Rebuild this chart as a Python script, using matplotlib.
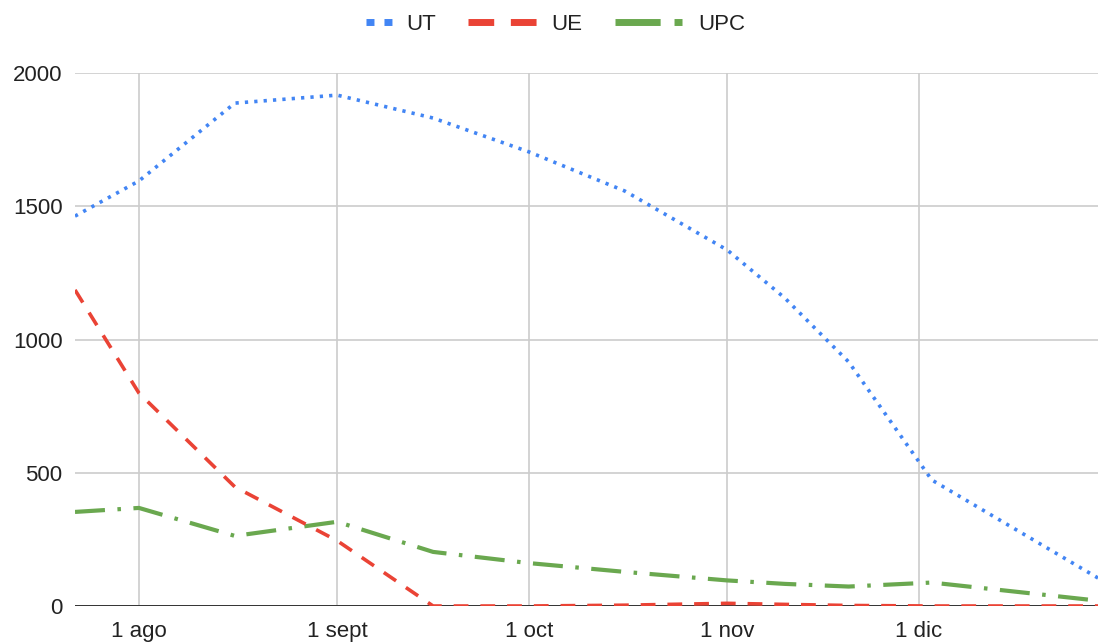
import numpy as np
import pandas as pd
import matplotlib
matplotlib.use("Agg")
import matplotlib.pyplot as plt
from matplotlib.lines import Line2D

plt.rcParams['font.family'] = ['Liberation Sans', 'DejaVu Sans']

# ---- datos ----
fechas = ["2021-07-22", "2021-08-01", "2021-08-16", "2021-09-01", "2021-09-16",
          "2021-10-01", "2021-10-16", "2021-11-01", "2021-11-10", "2021-11-20",
          "2021-12-03", "2021-12-29"]
ut = [1463, 1595, 1887, 1917, 1831, 1704, 1557, 1336, 1156, 916, 473, 105]
ue = [1186, 799, 447, 245, 0, 0, 3, 10, 6, 2, 0, 0]
upc = [353, 368, 263, 316, 203, 161, 128, 96, 83, 73, 88, 20]

meses = ["2021-08-01", "2021-09-01", "2021-10-01", "2021-11-01", "2021-12-01"]
etiquetas_meses = ["1 ago", "1 sept", "1 oct", "1 nov", "1 dic"]
y_ticks = [0, 500, 1000, 1500, 2000]

x = pd.to_datetime(fechas)

C_UT = "#4285F4"
C_UE = "#EA4335"
C_UPC = "#6AA84F"
TXT = "#222222"

fig = plt.figure(figsize=(10.98, 6.43), dpi=100)
ax = fig.add_axes([75 / 1098, 1 - 606 / 643, 1 - 75 / 1098, (606 - 73) / 643])

ax.plot(x, ut, color=C_UT, lw=2.6, dashes=(0.9, 1.7), dash_capstyle="butt", zorder=3)
ax.plot(x, ue, color=C_UE, lw=2.6, dashes=(4.1, 3.3), dash_capstyle="butt", zorder=4)
ax.plot(x, upc, color=C_UPC, lw=3.0, dashes=(7.2, 3.0, 0.85, 3.0), dash_capstyle="butt", zorder=3)

ax.set_xlim(pd.Timestamp("2021-07-22"), pd.Timestamp("2021-12-29"))
ax.set_ylim(0, 2000)

ax.set_xticks(pd.to_datetime(meses))
ax.set_xticklabels(etiquetas_meses)
ax.set_yticks(y_ticks)
ax.set_yticklabels([str(v) for v in y_ticks])

ax.grid(True, color="#cccccc", lw=1.2)
ax.set_axisbelow(True)
ax.axhline(0, color="#333333", lw=1.4, zorder=2)
for s in ax.spines.values():
    s.set_visible(False)
ax.tick_params(axis="both", length=0, labelsize=16, colors=TXT)
ax.tick_params(axis="x", pad=11)
ax.tick_params(axis="y", pad=9)

# leyenda arriba, centrada (el patrón azul va pegado al texto)
h_ut = Line2D([], [], color=C_UT, lw=5, linestyle=(3.75, (1.15, 1.44, 1.15, 6.2)),
              dash_capstyle="butt")
h_ue = Line2D([], [], color=C_UE, lw=5, dashes=(3.7, 2.4, 3.7, 10), dash_capstyle="butt")
h_upc = Line2D([], [], color=C_UPC, lw=5, dashes=(6.5, 2.0, 1.15, 10), dash_capstyle="butt")
fig.legend([h_ut, h_ue, h_upc], ["UT", "UE", "UPC"], loc="center",
           bbox_to_anchor=(534 / 1098, 1 - 24 / 643), ncol=3, frameon=False,
           fontsize=16, handlelength=3.1, handletextpad=0.65, columnspacing=1.45,
           labelcolor=TXT)

fig.savefig("out.png", dpi=100)
